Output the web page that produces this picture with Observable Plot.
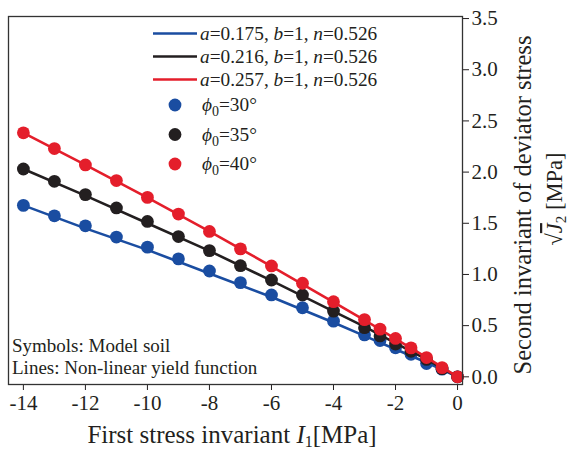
<!DOCTYPE html>
<html>
<head>
<meta charset="utf-8">
<script src="https://cdn.jsdelivr.net/npm/d3@7"></script>
<script src="https://cdn.jsdelivr.net/npm/@observablehq/plot@0.6"></script>
<style>
  html, body { margin: 0; padding: 0; background: #fff; }
  #chart svg { display: block; }
</style>
</head>
<body>
<div id="chart"></div>
<script>
// ---- data ----
const I1 = [-14, -13, -12, -11, -10, -9, -8, -7, -6, -5, -4, -3, -2.5, -2, -1.5, -1, -0.5, 0];
const phi30 = [1.675, 1.573, 1.475, 1.365, 1.267, 1.152, 1.034, 0.92, 0.80, 0.675, 0.544, 0.41, 0.355, 0.284, 0.22, 0.13, 0.075, 0];
const phi35 = [2.03, 1.91, 1.78, 1.65, 1.518, 1.37, 1.233, 1.086, 0.946, 0.80, 0.642, 0.48, 0.40, 0.32, 0.25, 0.17, 0.08, 0];
const phi40 = [2.384, 2.23, 2.07, 1.917, 1.753, 1.59, 1.42, 1.25, 1.083, 0.914, 0.734, 0.559, 0.466, 0.375, 0.283, 0.188, 0.09, 0];

const lineI1 = [-14, -12, -10, -8, -6, -4, -3, -2, -1, -0.5, 0];
const lineA175 = [1.675, 1.45, 1.24, 1.01, 0.78, 0.53, 0.40, 0.27, 0.14, 0.07, 0];
const lineA216 = [2.03, 1.77, 1.50, 1.23, 0.94, 0.64, 0.49, 0.33, 0.17, 0.085, 0];
const lineA257 = [2.384, 2.07, 1.75, 1.42, 1.08, 0.73, 0.555, 0.37, 0.19, 0.095, 0];

const xTicks = [-14, -12, -10, -8, -6, -4, -2, 0];
const yTicks = [0, 0.5, 1.0, 1.5, 2.0, 2.5, 3.0, 3.5];

const colors = {blue: "#1a4da1", black: "#231f20", red: "#e41e2b"};

const seriesLines = [
  {a: "0.175", vals: lineA175, color: colors.blue},
  {a: "0.216", vals: lineA216, color: colors.black},
  {a: "0.257", vals: lineA257, color: colors.red}
];
const seriesDots = [
  {phi: "30", vals: phi30, color: colors.blue},
  {phi: "35", vals: phi35, color: colors.black},
  {phi: "40", vals: phi40, color: colors.red}
];

const marks = [];
for (let i = 0; i < 3; i++) {
  const L = seriesLines[i], D = seriesDots[i];
  const ld = lineI1.map((x, k) => ({x, y: L.vals[k]}));
  const dd = I1.map((x, k) => ({x, y: D.vals[k]}));
  marks.push(Plot.line(ld, {x: "x", y: "y", stroke: L.color, strokeWidth: 2.6}));
  marks.push(Plot.dot(dd, {x: "x", y: "y", fill: D.color, r: 6.4}));
}

const plot = Plot.plot({
  width: 571,
  height: 451,
  marginLeft: 8,
  marginRight: 109,
  marginTop: 16,
  marginBottom: 67,
  style: {fontFamily: "'Liberation Serif', 'Times New Roman', serif", fontSize: "21px", color: "#231f20", background: "#fff"},
  x: {domain: [-14.48, 0.16]},
  y: {domain: [-0.075, 3.52]},
  marks: [
    ...marks,
    Plot.axisX({ticks: xTicks, tickSize: 6, tickPadding: 5, tickFormat: d => String(d).replace("\u2212", "-"), label: null, fontSize: 21}),
    Plot.axisY({anchor: "right", ticks: yTicks, tickSize: 6, tickPadding: 3, tickFormat: d3.format(".1f"), label: null, fontSize: 21}),
    Plot.frame({stroke: "#333", strokeWidth: 1.3})
  ]
});

document.getElementById("chart").appendChild(plot);

// ---- annotations, legend and axis titles ----
const svg = d3.select(plot);
const g = svg.append("g")
  .attr("font-family", "'Liberation Serif', 'Times New Roman', serif")
  .attr("fill", "#231f20")
  .attr("text-anchor", "start");

// legend lines
seriesLines.forEach((L, i) => {
  const y = 33.5 + i * 23;
  g.append("line").attr("x1", 153).attr("x2", 197).attr("y1", y).attr("y2", y)
    .attr("stroke", L.color).attr("stroke-width", 2.6);
  const t = g.append("text").attr("x", 200).attr("y", y + 6).attr("font-size", 19.3).attr("text-anchor", "start");
  t.append("tspan").attr("font-style", "italic").text("a");
  t.append("tspan").text("=" + L.a + ", ");
  t.append("tspan").attr("font-style", "italic").text("b");
  t.append("tspan").text("=1, ");
  t.append("tspan").attr("font-style", "italic").text("n");
  t.append("tspan").text("=0.526");
});
// legend dots
seriesDots.forEach((D, i) => {
  const y = 105 + i * 29.5;
  g.append("circle").attr("cx", 175).attr("cy", y).attr("r", 6.4).attr("fill", D.color);
  const t = g.append("text").attr("x", 202).attr("y", y + 6).attr("font-size", 19.3).attr("text-anchor", "start");
  t.append("tspan").attr("font-style", "italic").text("\u03D5");
  t.append("tspan").attr("font-size", 14).attr("dy", 5).text("0");
  t.append("tspan").attr("dy", -5).text("=" + D.phi + "\u00B0");
});

// notes
g.append("text").attr("x", 12).attr("y", 352).attr("font-size", 19).attr("text-anchor", "start").text("Symbols: Model soil");
g.append("text").attr("x", 12).attr("y", 374).attr("font-size", 19).attr("text-anchor", "start").text("Lines: Non-linear yield function");

// x title
const xt = g.append("text").attr("x", 232).attr("y", 443).attr("font-size", 25).attr("text-anchor", "middle");
xt.append("tspan").text("First stress invariant ");
xt.append("tspan").attr("font-style", "italic").text("I");
xt.append("tspan").attr("font-size", 16).attr("dy", 4).text("1");
xt.append("tspan").attr("dy", -4).text("[MPa]");

// y title (rotated)
g.append("text").attr("transform", "translate(531,205) rotate(-90)")
  .attr("font-size", 24.5).attr("text-anchor", "middle").text("Second invariant of deviator stress");
const yt2 = g.append("text").attr("transform", "translate(562,199) rotate(-90)")
  .attr("font-size", 22.5).attr("text-anchor", "middle");
yt2.append("tspan").text("\u221A");
yt2.append("tspan").attr("font-style", "italic").attr("text-decoration", "overline").text("J");
yt2.append("tspan").attr("font-size", 15).attr("dy", 4).text("2");
yt2.append("tspan").attr("dy", -4).text(" [MPa]");
</script>
</body>
</html>
